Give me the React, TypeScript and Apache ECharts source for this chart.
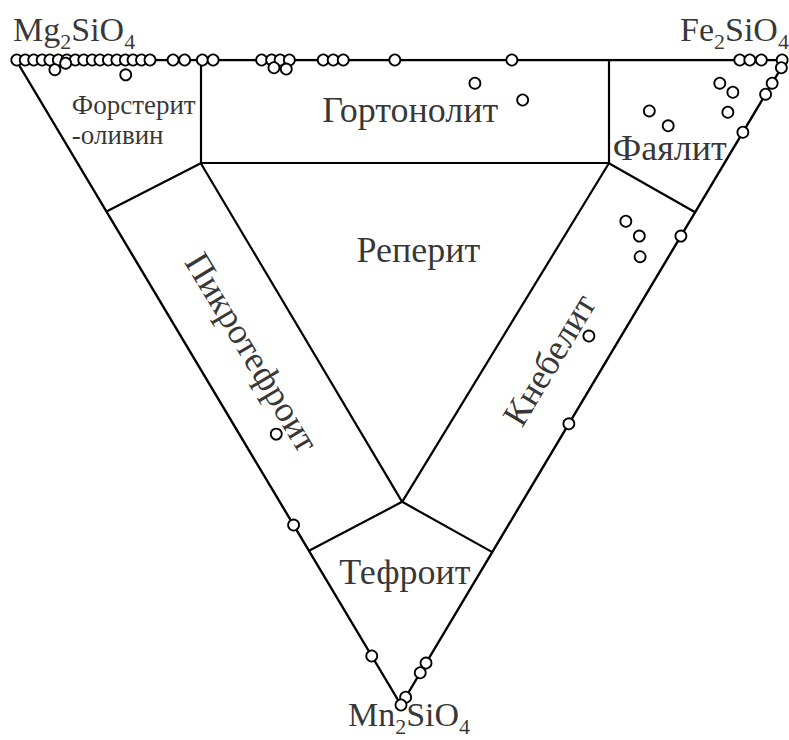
import React, { useEffect, useRef } from "react";
import * as echarts from "echarts";

// Olivine compositions in mol %, ordered [Mg2SiO4, Fe2SiO4, Mn2SiO4].

// Samples lying on the Mg2SiO4–Fe2SiO4 join: Fe2SiO4 content (Mn2SiO4 = 0)
const mgFeJoinFe: number[] = [
  0.1, 1.2, 2.3, 3.4, 4.4, 5.5, 6.6, 7.7, 8.8, 9.9, 10.9, 12.0, 13.1, 14.2,
  15.2, 16.3, 17.4, 20.4, 21.9, 24.2, 25.6, 31.9, 33.2, 34.3, 35.5, 39.9,
  41.2, 42.5, 49.2, 64.4, 94.0, 95.3, 96.8, 99.5,
];

// Samples lying on the Fe2SiO4–Mn2SiO4 join: Mn2SiO4 content (Mg2SiO4 = 0)
const feMnJoinMn: number[] = [1.2, 3.6, 5.3, 11.2, 27.3, 56.4, 93.5, 95.0, 98.8];

// Samples lying on the Mg2SiO4–Mn2SiO4 join: Mn2SiO4 content (Fe2SiO4 = 0)
const mgMnJoinMn: number[] = [72.1, 92.4, 100];

// Samples inside the triangle
const interiorSamples: number[][] = [
  [94.2, 4.3, 1.5],
  [93.3, 6.2, 0.5],
  [84.6, 13.1, 2.3],
  [65.9, 32.9, 1.2],
  [64.2, 34.4, 1.4],
  [38.6, 57.8, 3.6],
  [31.1, 62.7, 6.2],
  [6.8, 89.6, 3.6],
  [4.4, 90.6, 5.0],
  [3.5, 88.4, 8.1],
  [13.8, 78.3, 7.9],
  [10.2, 79.6, 10.2],
  [8.3, 66.7, 25.0],
  [5.4, 67.3, 27.3],
  [3.7, 65.8, 30.5],
  [4.2, 53.0, 42.8],
  [37.2, 4.8, 58.0],
];

// Field boundaries of the classification, as pairs of nodes
const boundarySegments: number[][][] = [
  [[76, 24, 0], [68, 16, 16]],
  [[68, 16, 16], [15, 69, 16]],
  [[23, 77, 0], [15, 69, 16]],
  [[68, 16, 16], [76.5, 0, 23.5]],
  [[15, 69, 16], [0, 76.4, 23.6]],
  [[68, 16, 16], [15.6, 15.9, 68.5]],
  [[15, 69, 16], [15.6, 15.9, 68.5]],
  [[15.6, 15.9, 68.5], [23.9, 0, 76.1]],
  [[15.6, 15.9, 68.5], [0, 23.7, 76.3]],
];

// Mineral field names, their anchor compositions and text rotation (degrees)
const fieldNames: string[] = [
  "Гортонолит",
  "Форстерит\n-оливин",
  "Реперит",
  "Фаялит",
  "Пикротефроит",
  "Кнебелит",
  "Тефроит",
];
const fieldAnchors: number[][] = [
  [44.9, 47.3, 7.8],
  [88.1, 2.6, 9.3],
  [33.0, 37.5, 29.5],
  [8.3, 78.1, 13.6],
  [46.7, 8.0, 45.3],
  [7.5, 46.0, 46.5],
  [9.8, 10.8, 79.4],
];
const fieldRotations: number[] = [0, 0, 0, 0, -59, 59, 0];

// End members at the triangle corners
const endMembers: string[][] = [
  ["Mg", "2", "SiO", "4"],
  ["Fe", "2", "SiO", "4"],
  ["Mn", "2", "SiO", "4"],
];
const endMemberCorners: number[][] = [
  [100, 0, 0],
  [0, 100, 0],
  [0, 0, 100],
];

const FONT = '"Liberation Serif", "Times New Roman", serif';
const INK = "#000000";

// Ternary composition -> plane coordinates (x: Fe + Mn/2, y: Mn, downward)
const toXY = (c: number[]) => [c[1] + c[2] / 2, c[2]];

export default function App() {
  const ref = useRef<HTMLDivElement>(null);

  useEffect(() => {
    if (!ref.current) return;
    const chart = echarts.init(ref.current, null, { renderer: "svg" });

    const samples = [
      ...mgFeJoinFe.map((fe) => [100 - fe, fe, 0]),
      ...feMnJoinMn.map((mn) => [0, 100 - mn, mn]),
      ...mgMnJoinMn.map((mn) => [100 - mn, 0, mn]),
      ...interiorSamples,
    ].map(toXY);

    const outline = [...endMemberCorners, endMemberCorners[0]].map(toXY);

    const fieldLabels = fieldNames.map((name, i) => ({
      value: toXY(fieldAnchors[i]),
      label: {
        formatter: name,
        rotate: fieldRotations[i],
        align: i === 1 ? "left" : "center",
        fontSize: i === 1 ? 27 : 36,
        lineHeight: i === 1 ? 30 : 40,
      },
    }));

    // Chemical formula with lowered subscripts
    const richFormula = (parts: string[]) =>
      `{m|${parts[0]}}{s|${parts[1]}}{m|${parts[2]}}{s|${parts[3]}}`;
    const cornerOffsets = [
      [-3, -31],
      [-106, -31],
      [8, 9],
    ];
    const cornerAlign = ["left", "left", "center"];
    const cornerLabels = endMembers.map((parts, i) => ({
      value: toXY(endMemberCorners[i]),
      label: {
        formatter: richFormula(parts),
        align: cornerAlign[i],
        offset: cornerOffsets[i],
      },
    }));

    chart.setOption({
      animation: false,
      backgroundColor: "#ffffff",
      grid: { left: 16, right: 3, top: 60, bottom: 35 },
      xAxis: { type: "value", min: 0, max: 100, show: false },
      yAxis: { type: "value", min: 0, max: 100, inverse: true, show: false },
      series: [
        {
          type: "line",
          data: outline,
          symbol: "none",
          silent: true,
          lineStyle: { color: INK, width: 2.4 },
          z: 2,
        },
        {
          type: "lines",
          coordinateSystem: "cartesian2d",
          silent: true,
          data: boundarySegments.map((seg) => ({ coords: seg.map(toXY) })),
          lineStyle: { color: INK, width: 2.2, opacity: 1, curveness: 0 },
          z: 2,
        },
        {
          type: "scatter",
          data: samples,
          symbol: "circle",
          symbolSize: 11,
          silent: true,
          itemStyle: { color: "#ffffff", borderColor: INK, borderWidth: 1.8, opacity: 1 },
          z: 5,
        },
        {
          type: "scatter",
          data: fieldLabels,
          symbolSize: 0,
          silent: true,
          label: {
            show: true,
            position: "inside",
            verticalAlign: "middle",
            color: INK,
            fontFamily: FONT,
          },
          z: 6,
        },
        {
          type: "scatter",
          data: cornerLabels,
          symbolSize: 0,
          silent: true,
          label: {
            show: true,
            position: "inside",
            verticalAlign: "middle",
            color: INK,
            fontFamily: FONT,
            rich: {
              m: { fontSize: 34, fontFamily: FONT, color: INK, lineHeight: 46 },
              s: {
                fontSize: 22,
                fontFamily: FONT,
                color: INK,
                lineHeight: 12,
                verticalAlign: "bottom",
              },
            },
          },
          z: 6,
        },
      ],
    });

    return () => chart.dispose();
  }, []);

  return (
    <div
      ref={ref}
      style={{ position: "absolute", left: 0, top: 0, width: 789, height: 740 }}
    />
  );
}
